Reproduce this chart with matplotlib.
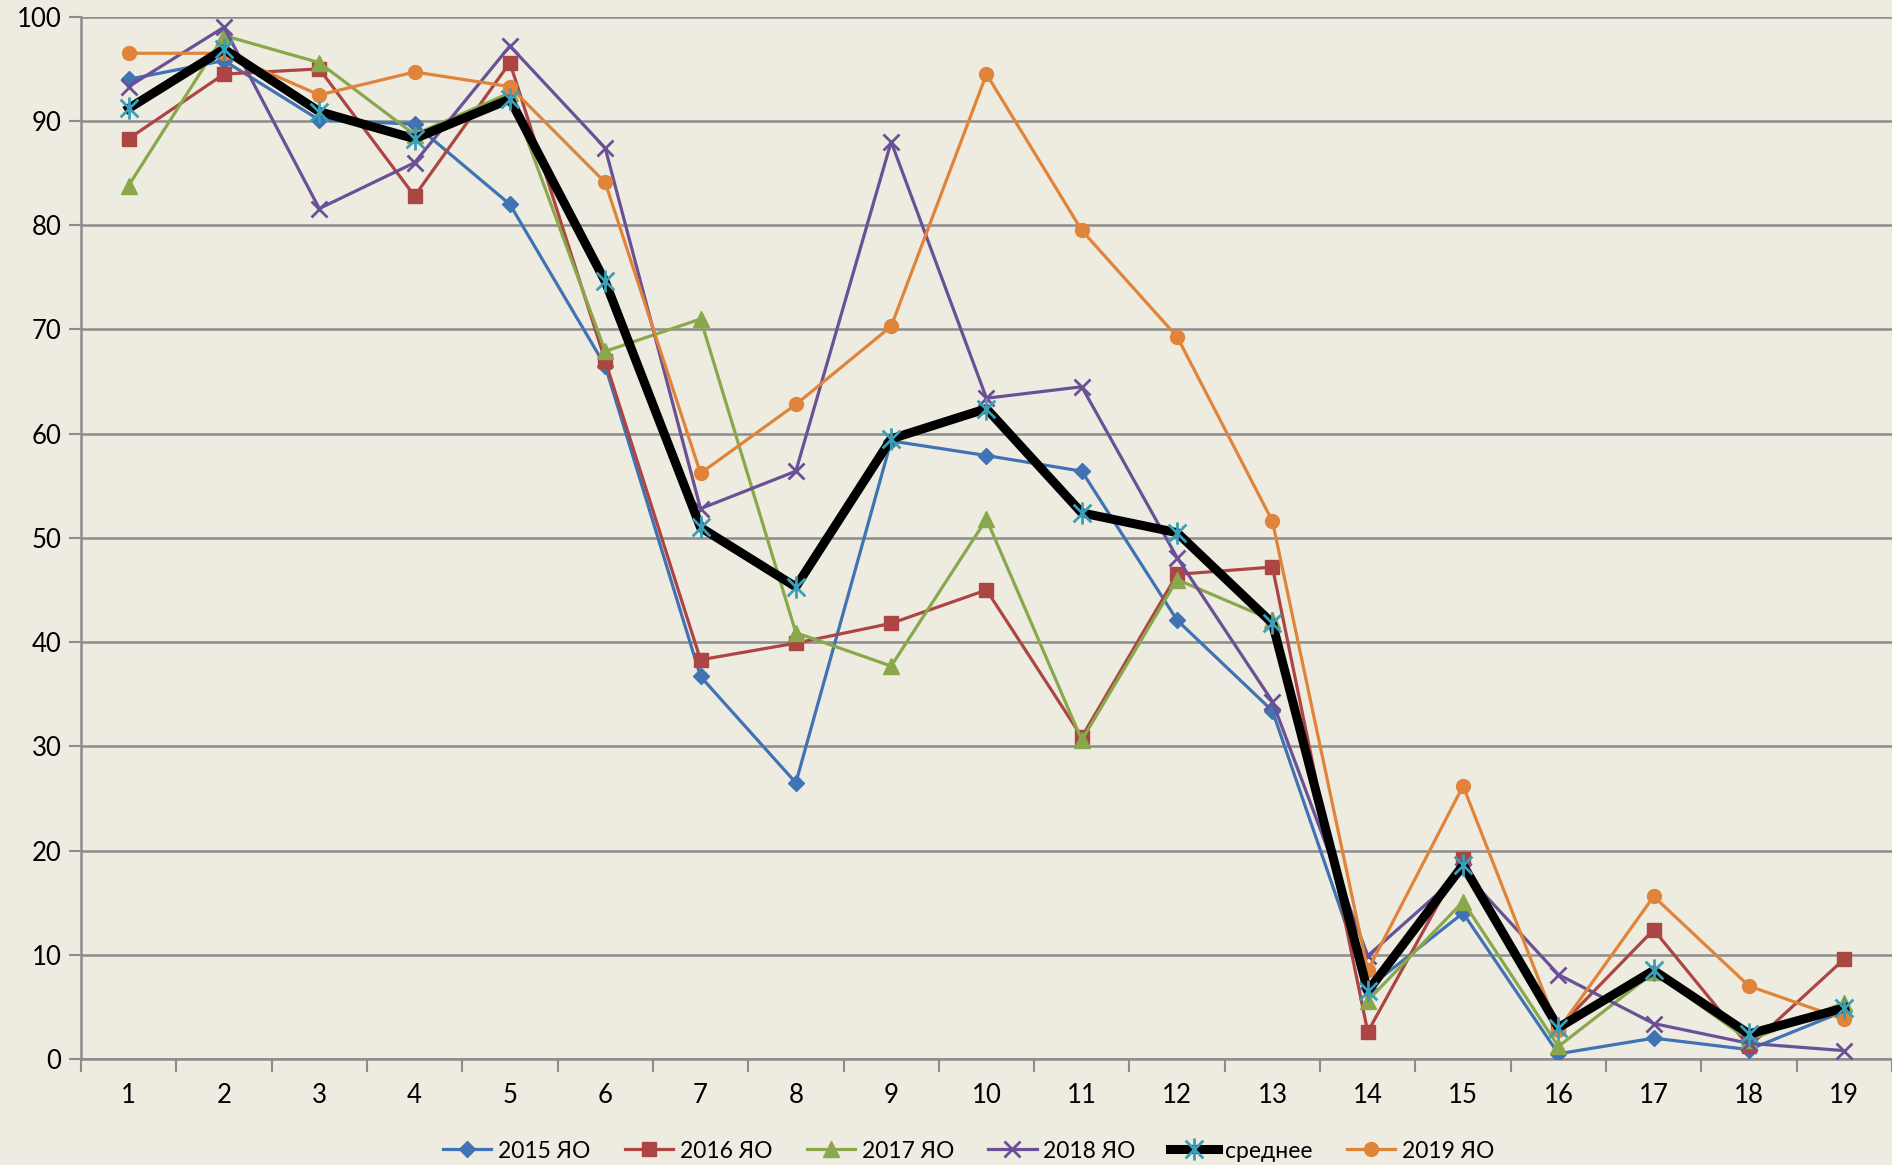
import matplotlib
matplotlib.use("Agg")
import matplotlib.pyplot as plt
import numpy as np
from matplotlib.path import Path
from matplotlib.ticker import FixedLocator, MultipleLocator

categories = list(range(1, 20))

y2015 = [94.0, 95.8, 90.1, 89.7, 82.0, 66.5, 36.7, 26.5, 59.3, 57.9,
         56.4, 42.1, 33.4, 6.8, 14.0, 0.5, 2.0, 0.9, 4.6]
y2016 = [88.3, 94.5, 95.0, 82.8, 95.6, 67.0, 38.3, 39.9, 41.8, 45.0,
         30.9, 46.5, 47.2, 2.6, 19.2, 3.0, 12.4, 1.2, 9.6]
y2017 = [83.8, 98.2, 95.6, 88.7, 92.7, 67.9, 71.0, 40.9, 37.7, 51.8,
         30.6, 46.0, 42.1, 5.6, 15.1, 1.2, 8.3, 1.8, 5.4]
y2018 = [93.3, 99.0, 81.6, 86.0, 97.2, 87.4, 52.8, 56.4, 88.0, 63.4,
         64.5, 48.1, 34.3, 9.9, 18.0, 8.1, 3.4, 1.5, 0.8]
mean_vals = [91.2, 96.9, 90.9, 88.3, 92.1, 74.6, 51.0, 45.3, 59.5, 62.4,
             52.4, 50.5, 41.8, 6.5, 18.6, 3.0, 8.5, 2.4, 4.9]
y2019 = [96.5, 96.5, 92.5, 94.7, 93.3, 84.1, 56.2, 62.8, 70.3, 94.5,
         79.5, 69.3, 51.6, 8.5, 26.2, 2.8, 15.6, 7.0, 3.8]

BG = "#EEECE1"

# asterisk marker: "x" plus a vertical stroke
star = Path(
    [(-1, -1), (1, 1), (-1, 1), (1, -1), (0, -1.25), (0, 1.25)],
    [Path.MOVETO, Path.LINETO, Path.MOVETO, Path.LINETO, Path.MOVETO, Path.LINETO],
)

plt.rcParams["font.family"] = ["Lato", "DejaVu Sans"]

fig = plt.figure(figsize=(18.92, 11.65), dpi=100, facecolor=BG)
ax = fig.add_axes([0.0428, 0.091, 0.9572, 0.8946], facecolor=BG)

x = np.array(categories)
lw = 2.3
h1, = ax.plot(x, y2015, color="#3F73B3", lw=lw, marker="D", ms=8.5, label="2015 ЯО", zorder=3)
h2, = ax.plot(x, y2016, color="#AC4543", lw=lw, marker="s", ms=10, label="2016 ЯО", zorder=3)
h3, = ax.plot(x, y2017, color="#88A84B", lw=lw, marker="^", ms=11, label="2017 ЯО", zorder=3)
h4, = ax.plot(x, y2018, color="#6A5096", lw=lw, marker="x", ms=11, mew=2, label="2018 ЯО", zorder=3)
h6, = ax.plot(x, y2019, color="#E0843A", lw=lw, marker="o", ms=10, label="2019 ЯО", zorder=3)
h5, = ax.plot(x, mean_vals, color="black", lw=6.5, marker=star, ms=16, mew=2,
              mec="#3A9FB8", mfc="none", label="среднее", zorder=4)

ax.set_xlim(0.5, 19.5)
ax.set_ylim(0, 100)
ax.yaxis.set_major_locator(MultipleLocator(10))
ax.set_xticks(categories)
ax.set_xticklabels([str(c) for c in categories])
ax.xaxis.set_minor_locator(FixedLocator(np.arange(0.5, 20, 1)))
ax.tick_params(axis="x", which="major", length=0, pad=17, labelsize=18.5)
ax.tick_params(axis="x", which="minor", length=9, width=1.5, color="#8C8C8C")
ax.tick_params(axis="y", which="major", length=9, width=1.5, color="#8C8C8C", labelsize=18.5, pad=5)

ax.grid(axis="y", color="#8C8C8C", lw=1.8)
ax.set_axisbelow(True)
for side in ["top", "right"]:
    ax.spines[side].set_visible(False)
for side in ["left", "bottom"]:
    ax.spines[side].set_color("#8C8C8C")
    ax.spines[side].set_linewidth(1.8)

fig.legend(handles=[h1, h2, h3, h4, h5, h6], loc="center", bbox_to_anchor=(0.512, 0.012),
           ncol=6, frameon=False, fontsize=16.5, handlelength=2.1, columnspacing=1.5,
           handletextpad=0.3)

fig.savefig("out.png", dpi=100, facecolor=BG)
